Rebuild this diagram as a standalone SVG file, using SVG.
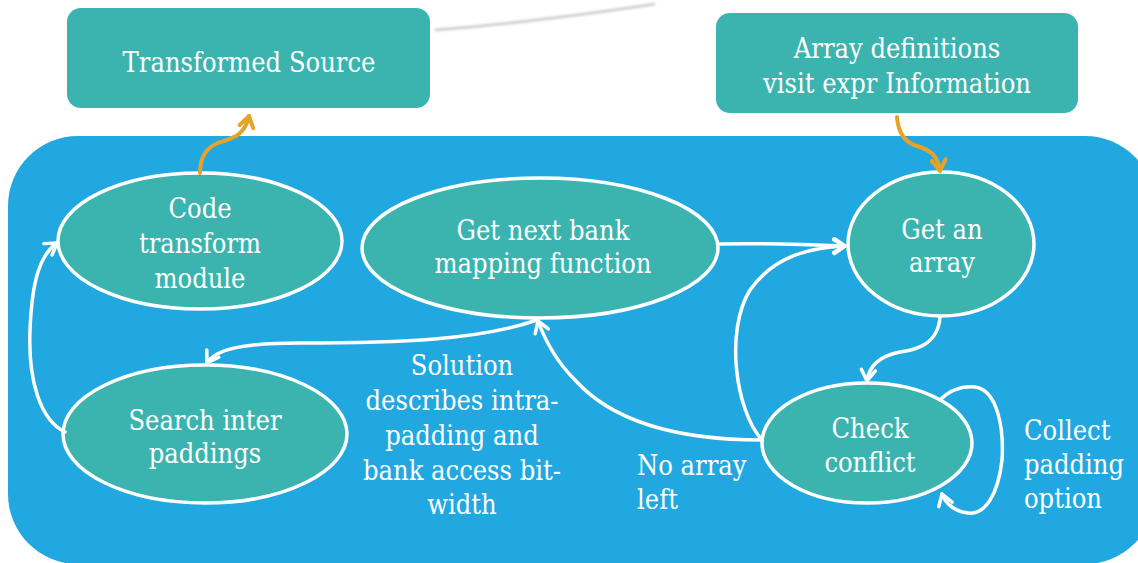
<svg xmlns="http://www.w3.org/2000/svg" width="1138" height="563" viewBox="0 0 1138 563">
  <defs>
    <style>
      .box { fill: #3BB4B0; }
      .node { fill: #3BB4B0; stroke: #ffffff; stroke-width: 3.5; }
      .label { font-family: 'DejaVu Serif Condensed', 'DejaVu Serif', serif; font-stretch: semi-condensed; font-size: 27px; fill: #ffffff; }
      .mid { text-anchor: middle; }
      .edge { fill: none; stroke: #ffffff; stroke-width: 3.5; stroke-linecap: round; }
      .feed { fill: none; stroke: #E5A427; stroke-width: 4; stroke-linecap: round; }
    </style>
    <marker id="arrowWhite" viewBox="-13 -9 16 18" refX="0" refY="0" markerWidth="16" markerHeight="18" markerUnits="userSpaceOnUse" orient="auto">
      <path d="M-11,-7 L0,0 L-11,7" fill="none" stroke="#ffffff" stroke-width="3.5" stroke-linecap="round" stroke-linejoin="round"/>
    </marker>
    <marker id="arrowOrange" viewBox="-13 -9 16 18" refX="0" refY="0" markerWidth="16" markerHeight="18" markerUnits="userSpaceOnUse" orient="auto">
      <path d="M-11,-7 L0,0 L-11,7" fill="none" stroke="#E5A427" stroke-width="4" stroke-linecap="round" stroke-linejoin="round"/>
    </marker>
    <filter id="soft" x="-10%" y="-200%" width="120%" height="500%">
      <feGaussianBlur stdDeviation="0.8"/>
    </filter>
  </defs>

  <rect width="1138" height="563" fill="#ffffff"/>

  <!-- faint grey stroke at the top -->
  <path d="M435,30 C510,24 590,14 655,4" fill="none" stroke="#d2d2d2" stroke-width="3" filter="url(#soft)"/>

  <!-- process area -->
  <rect id="process-area" x="8" y="136" width="1147" height="428" rx="70" ry="70" fill="#22A8E1"/>

  <g id="transformed-source">
    <rect class="box" x="67" y="8" width="363" height="100" rx="14" ry="14"/>
    <text class="label mid" x="249" y="72">Transformed Source</text>
  </g>

  <g id="array-definitions">
    <rect class="box" x="716" y="13" width="362" height="100" rx="14" ry="14"/>
    <text class="label mid" x="897" y="58">Array definitions</text>
    <text class="label mid" x="897" y="93">visit expr Information</text>
  </g>

  <g id="code-transform">
    <ellipse class="node" cx="200" cy="241" rx="142" ry="68"/>
    <text class="label mid" x="200" y="218">Code</text>
    <text class="label mid" x="200" y="253">transform</text>
    <text class="label mid" x="200" y="288">module</text>
  </g>

  <g id="get-next-bank">
    <ellipse class="node" cx="540" cy="248" rx="178" ry="70"/>
    <text class="label mid" x="543" y="240">Get next bank</text>
    <text class="label mid" x="543" y="273">mapping function</text>
  </g>

  <g id="get-an-array">
    <ellipse class="node" cx="941" cy="244" rx="93" ry="72"/>
    <text class="label mid" x="942" y="239">Get an</text>
    <text class="label mid" x="942" y="272">array</text>
  </g>

  <g id="check-conflict">
    <ellipse class="node" cx="867" cy="443" rx="105" ry="60"/>
    <text class="label mid" x="870" y="438">Check</text>
    <text class="label mid" x="870" y="472">conflict</text>
  </g>

  <g id="search-inter">
    <ellipse class="node" cx="205" cy="434" rx="142" ry="69"/>
    <text class="label mid" x="205" y="430">Search inter</text>
    <text class="label mid" x="205" y="463">paddings</text>
  </g>

  <g id="connectors">
    <!-- inputs and output of the process -->
    <path class="feed" d="M200,173 C200,160 205,148 218,143 C232,138 244,137 249,116" marker-end="url(#arrowOrange)"/>
    <path class="feed" d="M897,117 C898,130 903,142 917,146 C930,150 938,155 940,171" marker-end="url(#arrowOrange)"/>

    <!-- next mapping function -> get an array -->
    <path class="edge" d="M718,244 C760,243 800,244 845,246" marker-end="url(#arrowWhite)"/>
    <!-- check conflict -> get an array -->
    <path class="edge" d="M762,440 C735,410 725,330 750,290 C775,255 810,248 845,246" marker-end="url(#arrowWhite)"/>
    <!-- get an array -> check conflict -->
    <path class="edge" d="M940,317 C938,345 915,350 900,352 C880,356 869,365 867,381" marker-end="url(#arrowWhite)"/>
    <!-- collect padding option (self loop) -->
    <path class="edge" d="M940,400 C950,390 962,386 975,387 C998,390 1004,430 1002,460 C998,495 985,515 968,513 C955,512 945,503 942,494" marker-end="url(#arrowWhite)"/>
    <!-- no array left -> next mapping function -->
    <path class="edge" d="M762,440 C700,440 620,430 575,380 C555,360 545,340 538,321" marker-end="url(#arrowWhite)"/>
    <!-- next mapping function -> search inter paddings -->
    <path class="edge" d="M537,320 C480,340 400,343 300,343 C240,343 215,350 207,363" marker-end="url(#arrowWhite)"/>
    <!-- search inter paddings -> code transform -->
    <path class="edge" d="M65,432 C40,420 28,380 30,330 C32,280 40,255 57,243" marker-end="url(#arrowWhite)"/>
  </g>

  <g id="edge-labels">
    <text class="label mid" x="462" y="375">Solution</text>
    <text class="label mid" x="462" y="410">describes intra-</text>
    <text class="label mid" x="462" y="445">padding and</text>
    <text class="label mid" x="462" y="480">bank access bit-</text>
    <text class="label mid" x="462" y="514">width</text>
    <text class="label" x="637" y="475">No array</text>
    <text class="label" x="637" y="509">left</text>
    <text class="label" x="1024" y="440">Collect</text>
    <text class="label" x="1024" y="474">padding</text>
    <text class="label" x="1024" y="508">option</text>
  </g>
</svg>
